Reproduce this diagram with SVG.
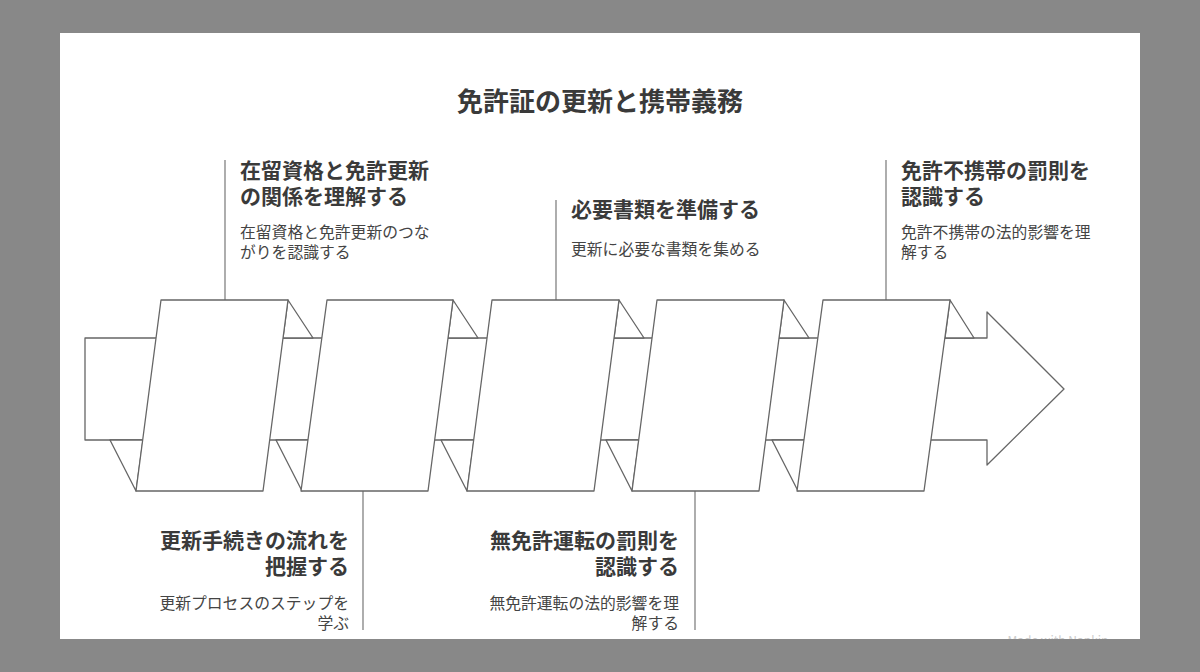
<svg xmlns="http://www.w3.org/2000/svg" width="1200" height="672" viewBox="0 0 1200 672">
<style>
.s{fill:#fff;stroke:#666;stroke-width:1.3;stroke-linejoin:round}
.l{stroke:#777;stroke-width:1.2}
text{font-family:"Noto Sans CJK JP","Noto Sans",sans-serif;fill:#3a3a3a}
.h{font-size:21px;font-weight:bold}
.d{font-size:15.8px;fill:#444}
.r{text-anchor:end}
</style>
<rect width="1200" height="672" fill="#888"/>
<rect x="60" y="33" width="1080" height="606" fill="#fff"/>
<text x="1058" y="645" font-size="12" text-anchor="middle" style="fill:#ccc">Made with Napkin</text>
<rect x="0" y="639" width="1200" height="33" fill="#888"/>
<text x="600" y="111" text-anchor="middle" font-size="26" font-weight="bold">免許証の更新と携帯義務</text>
<g id="connectors">
<line class="l" x1="225" y1="160" x2="225" y2="300"/>
<line class="l" x1="363" y1="491" x2="363" y2="630"/>
<line class="l" x1="556" y1="200" x2="556" y2="300"/>
<line class="l" x1="695" y1="491" x2="695" y2="630"/>
<line class="l" x1="886" y1="160" x2="886" y2="300"/>
</g>
<g id="band">
<polygon class="s" points="85,338 987,338 987,312 1064,389 987,465 987,440 85,440"/>
</g>
<g id="node1">
<polygon class="s" points="288,300 313,338 283,338"/>
<polygon class="s" points="110,440 136,491 143,440"/>
<polygon class="s" points="161,300 288,300 263,491 136,491"/>
<text class="h" x="240" y="178">在留資格と免許更新</text>
<text class="h" x="240" y="204">の関係を理解する</text>
<text class="d" x="240" y="238">在留資格と免許更新のつな</text>
<text class="d" x="240" y="258">がりを認識する</text>
</g>
<g id="node2">
<polygon class="s" points="453,300 478,338 448,338"/>
<polygon class="s" points="276,440 302,491 309,440"/>
<polygon class="s" points="327,300 453,300 428,491 301,491"/>
<text class="h r" x="349" y="548">更新手続きの流れを</text>
<text class="h r" x="349" y="574">把握する</text>
<text class="d r" x="349" y="609">更新プロセスのステップを</text>
<text class="d r" x="349" y="629">学ぶ</text>
</g>
<g id="node3">
<polygon class="s" points="619,300 644,338 614,338"/>
<polygon class="s" points="441,440 467,491 474,440"/>
<polygon class="s" points="492,300 619,300 594,491 467,491"/>
<text class="h" x="571" y="217">必要書類を準備する</text>
<text class="d" x="571" y="255">更新に必要な書類を集める</text>
</g>
<g id="node4">
<polygon class="s" points="784,300 809,338 779,338"/>
<polygon class="s" points="606,440 632,491 639,440"/>
<polygon class="s" points="657,300 784,300 759,491 632,491"/>
<text class="h r" x="679" y="548">無免許運転の罰則を</text>
<text class="h r" x="679" y="574">認識する</text>
<text class="d r" x="679" y="609">無免許運転の法的影響を理</text>
<text class="d r" x="679" y="629">解する</text>
</g>
<g id="node5">
<polygon class="s" points="950,300 974,338 945,338"/>
<polygon class="s" points="772,440 798,491 805,440"/>
<polygon class="s" points="823,300 950,300 924,491 797,491"/>
<text class="h" x="901" y="178">免許不携帯の罰則を</text>
<text class="h" x="901" y="204">認識する</text>
<text class="d" x="901" y="238">免許不携帯の法的影響を理</text>
<text class="d" x="901" y="258">解する</text>
</g>
</svg>
